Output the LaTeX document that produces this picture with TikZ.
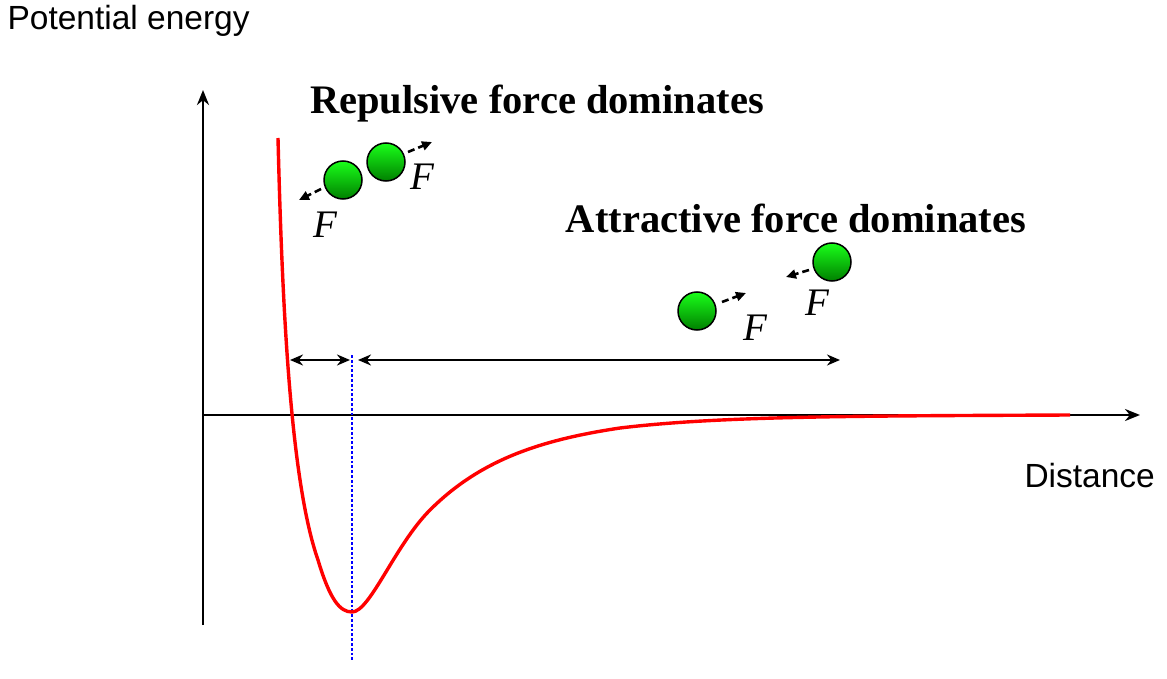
\documentclass[tikz,border=0pt]{standalone}
\usepackage{fontspec}
\setmainfont{Liberation Serif}
\newfontfamily\arialf{Liberation Sans}
\usetikzlibrary{arrows.meta}
\tikzset{
  ball/.style={circle,draw=black,line width=1.5pt,minimum size=38pt,inner sep=0pt,top color=green!90!white,bottom color=green!50!black},
  farrow/.style={-{Triangle[length=10pt,width=9pt]},dashed,dash pattern=on 7pt off 4pt,line width=2.6pt},
  flab/.style={font=\fontsize{39}{39}\selectfont\itshape},
  title/.style={font=\fontsize{40.5}{40.5}\selectfont\bfseries},
  axlab/.style={font=\arialf\fontsize{33.5}{33.5}\selectfont,anchor=base west},
  dim/.style={{Stealth[length=13pt,width=11pt]}-{Stealth[length=13pt,width=11pt]},line width=2.6pt},
}
\begin{document}
\begin{tikzpicture}[x=1pt,y=-1pt]
\useasboundingbox (0,0) rectangle (1167,679);
\coordinate (yb) at (203,625); \coordinate (yt) at (203,90);
\coordinate (xl) at (203,415); \coordinate (xr) at (1140,415);
\draw[line width=2.6pt,-{Stealth[length=15pt,width=12pt]}] (yb) -- (yt);
\draw[line width=2.6pt,-{Stealth[length=15pt,width=12pt]}] (xl) -- (xr);
\node[axlab] (pe) at (4,30) {Potential energy};
\node[axlab] (di) at (1021,487) {Distance};
\coordinate (vt) at (352,355); \coordinate (vb) at (352,662);
\draw[blue,line width=2.8pt,dotted] (vt) -- (vb);
\draw[red,line width=3.4pt] (278,138) .. controls (282,300) and (290,480) .. (318,560)
  .. controls (330,600) and (340,612) .. (352,612)
  .. controls (370,612) and (395,545) .. (430,510)
  .. controls (480,460) and (540,440) .. (620,428)
  .. controls (720,416) and (850,416) .. (1070,415);
\coordinate (a1) at (290,360); \coordinate (a2) at (350,360);
\coordinate (a3) at (358,360); \coordinate (a4) at (840,360);
\draw[dim] (a1) -- (a2);
\draw[dim] (a3) -- (a4);
\node[title] (rt) at (537,104) {Repulsive force dominates};
\node[title] (at) at (796,218) {Attractive force dominates};
\node[ball] (b1) at (343,180) {};
\node[ball] (b2) at (386,162) {};
\node[ball] (b3) at (697,311) {};
\node[ball] (b4) at (832,262) {};
\coordinate (e1) at (299,200); \coordinate (e2) at (432,142);
\coordinate (e3) at (746,293); \coordinate (e4) at (786,277);
\draw[farrow] (b1) ++(-22,9) -- (e1);
\draw[farrow] (b2) ++(22,-10) -- (e2);
\draw[farrow] (b3) ++(25,-9) -- (e3);
\draw[farrow] (b4) ++(-23,8) -- (e4);
\node[flab] (f1) at (325,225) {F};
\node[flab] (f2) at (422,177) {F};
\node[flab] (f3) at (755,328) {F};
\node[flab] (f4) at (817,303) {F};
\end{tikzpicture}
\end{document}
